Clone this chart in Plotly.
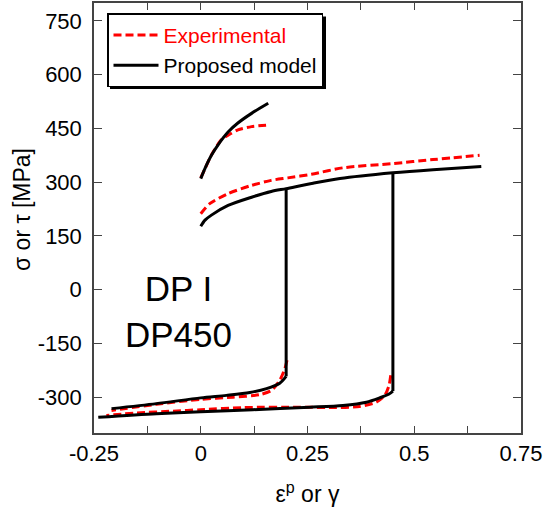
import plotly.graph_objects as go

# ---------------- data ----------------
# Experimental (red dashed)
exp_shear_x = [0.0, 0.009, 0.025, 0.048, 0.064, 0.087, 0.119, 0.153]
exp_shear_y = [312, 335, 376, 418, 431, 446, 455, 459]

exp_fwd_x = [0.0, 0.021, 0.064, 0.119, 0.165, 0.204, 0.259, 0.333, 0.45, 0.544, 0.653]
exp_fwd_y = [212, 240, 268, 291, 305, 312, 322, 340, 352, 363, 375]

exp_rev1_x = [0.202, 0.197, 0.185, 0.166, 0.138, 0.076, 0.0, -0.104, -0.209]
exp_rev1_y = [-197, -220, -253, -281, -293, -300, -306, -320, -337]

exp_rev2_x = [0.445, 0.441, 0.431, 0.411, 0.372, 0.318, 0.232, 0.1, 0.0, -0.065, -0.15, -0.221]
exp_rev2_y = [-239, -267, -295, -314, -326, -329, -328, -329, -335, -339, -344, -351]

# Proposed model (black solid)
mod_shear_x = [0.0, 0.009, 0.025, 0.041, 0.064, 0.087, 0.119, 0.158]
mod_shear_y = [310, 336, 375, 405, 440, 465, 492, 520]

mod_fwd_x = [0.0, 0.01, 0.025, 0.064, 0.119, 0.165, 0.2, 0.263, 0.326, 0.45, 0.544, 0.657]
mod_fwd_y = [177, 194, 208, 235, 258, 274, 282, 297, 310, 326, 335, 344]

# elastic unloading jumps of the model (strain, top stress, bottom stress)
mod_drop_x = [0.2, 0.45]
mod_drop_top = [282, 326]
mod_drop_bot = [-242, -283]

mod_rev1_x = [0.2, 0.185, 0.154, 0.115, 0.06, 0.0, -0.104, -0.209]
mod_rev1_y = [-242, -261, -276, -287, -295, -302, -318, -332]

mod_rev2_x = [0.45, 0.44, 0.419, 0.388, 0.333, 0.255, 0.122, 0.0, -0.104, -0.24]
mod_rev2_y = [-283, -292, -302, -314, -323, -328, -335, -341, -346, -356]

x_tickvals = [-0.25, 0, 0.25, 0.5, 0.75]
x_ticktext = ["-0.25", "0", "0.25", "0.5", "0.75"]
y_tickvals = [-300, -150, 0, 150, 300, 450, 600, 750]
y_ticktext = ["-300", "-150", "0", "150", "300", "450", "600", "750"]

# ---------------- figure ----------------
FONT = "Liberation Sans, Arial, Helvetica, sans-serif"
RED = "#ff0000"
W, H = 546, 513
ML, MR, MT, MB = 94, 25, 3, 80

fig = go.Figure()

exp_sets = [(exp_shear_x, exp_shear_y), (exp_fwd_x, exp_fwd_y),
            (exp_rev1_x, exp_rev1_y), (exp_rev2_x, exp_rev2_y)]
for i, (xs, ys) in enumerate(exp_sets):
    fig.add_trace(go.Scatter(
        x=xs, y=ys, mode="lines",
        name="<span style='color:#ff0000'>Experimental</span>",
        legendgroup="exp", showlegend=(i == 0),
        line=dict(color=RED, width=3, dash="8px,4px", shape="spline", smoothing=0.7)))

mod_sets = [(mod_shear_x, mod_shear_y), (mod_fwd_x, mod_fwd_y),
            (mod_rev1_x, mod_rev1_y), (mod_rev2_x, mod_rev2_y)]
for i, (xs, ys) in enumerate(mod_sets):
    fig.add_trace(go.Scatter(
        x=xs, y=ys, mode="lines", name="Proposed model",
        legendgroup="mod", showlegend=(i == 0),
        line=dict(color="black", width=3, shape="spline", smoothing=0.8)))
for dx, yt, yb in zip(mod_drop_x, mod_drop_top, mod_drop_bot):
    fig.add_trace(go.Scatter(
        x=[dx, dx], y=[yt, yb], mode="lines", name="Proposed model",
        legendgroup="mod", showlegend=False,
        line=dict(color="black", width=3)))

axis_common = dict(
    showgrid=False, zeroline=False, showline=True, linecolor="#444", linewidth=1.5,
    mirror="ticks", ticks="inside", tickcolor="#444", tickwidth=1.2,
    tickfont=dict(family=FONT, size=22, color="black"),
)

fig.update_xaxes(
    range=[-0.25, 0.75], tickvals=x_tickvals, ticktext=x_ticktext, ticklen=7,
    minor=dict(dtick=0.125, tick0=0, ticks="inside", ticklen=7, tickcolor="#444", tickwidth=1.2),
    title=dict(text="ε<sup>p</sup> or γ", font=dict(family=FONT, size=23, color="black"), standoff=21),
    **axis_common)
fig.update_yaxes(
    range=[-400, 800], tickvals=y_tickvals, ticktext=y_ticktext, ticklen=8,
    ticklabelstandoff=6,
    **axis_common)

pw, ph = W - ML - MR, H - MT - MB
def px_to_paper(px, py):
    return (px - ML) / pw, (H - MB - py) / ph

# legend drop shadow
sx0, sy0 = px_to_paper(110, 16.5)
sx1, sy1 = px_to_paper(326, 89)
fig.add_shape(type="rect", xref="paper", yref="paper", x0=sx0, y0=sy1, x1=sx1, y1=sy0,
              line=dict(width=0), fillcolor="black", layer="above")

ytx, yty = px_to_paper(22, 210)
lx, ly = px_to_paper(107, 13.3)
fig.update_layout(
    width=W, height=H,
    margin=dict(l=ML, r=MR, t=MT, b=MB, autoexpand=False),
    paper_bgcolor="white", plot_bgcolor="white",
    font=dict(family=FONT, size=21, color="black"),
    legend=dict(x=lx, y=ly, xanchor="left", yanchor="top",
                bgcolor="white", bordercolor="black", borderwidth=1.5,
                font=dict(family=FONT, size=21, color="black"), tracegroupgap=0,
                itemwidth=45),
    annotations=[
        dict(text="DP I<br>DP450", x=-0.052, y=-60, xref="x", yref="y",
             showarrow=False, font=dict(family=FONT, size=35, color="black"),
             align="center"),
        dict(text="σ or τ [MPa]", x=ytx, y=yty, xref="paper", yref="paper",
             xanchor="center", yanchor="middle", textangle=-90, showarrow=False,
             font=dict(family=FONT, size=23, color="black")),
    ],
)

fig.write_html("out.html", config={"displayModeBar": False},
               post_script="document.body.style.margin='0';")
